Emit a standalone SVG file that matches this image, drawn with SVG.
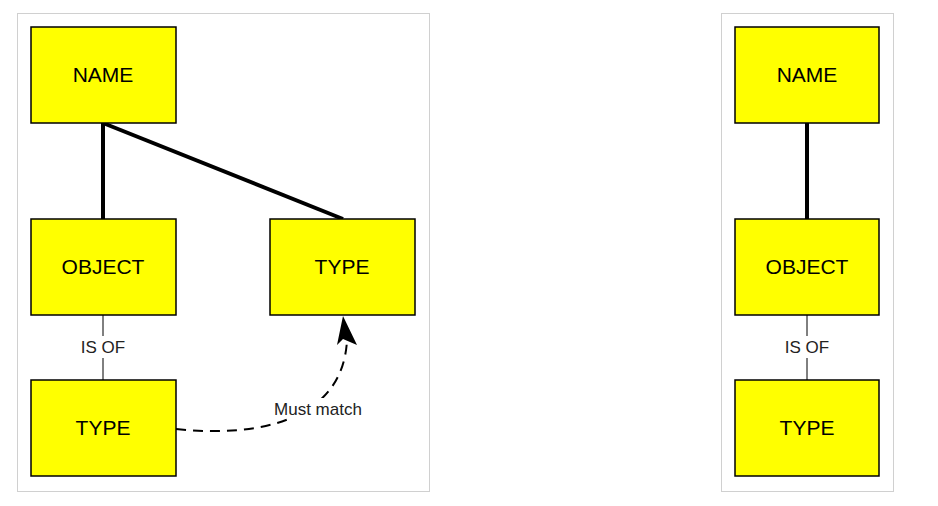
<svg xmlns="http://www.w3.org/2000/svg" width="938" height="506" viewBox="0 0 938 506">
<style>
.panel{fill:#fff;stroke:#d0d0d0;stroke-width:1}
.node rect{fill:#ffff00;stroke:#000;stroke-width:1.5}
text{font-family:"Liberation Sans",Arial,sans-serif;fill:#000}
.nl{font-size:21px;text-anchor:middle}
.el{font-size:17px;text-anchor:middle;fill:#222}
</style>
<defs><marker id="ah" markerWidth="10" markerHeight="12" refX="5" refY="1" orient="auto-start-reverse" markerUnits="userSpaceOnUse" viewBox="0 0 10 12"><path d="M5,0 L10,12 L5,10 L0,12Z" fill="#000"/></marker></defs>
<rect width="938" height="506" fill="#fff"/>
<rect class="panel" x="17.5" y="13.5" width="412" height="478"/>
<rect class="panel" x="721.5" y="13.5" width="172" height="478"/>
<g id="connectors">
<line x1="103" y1="123" x2="103" y2="219" stroke="#000" stroke-width="4"/>
<line x1="103" y1="123" x2="343" y2="219" stroke="#000" stroke-width="4"/>
<line x1="103" y1="315" x2="103" y2="380" stroke="#000" stroke-width="1"/>
<rect x="70" y="336" width="66" height="22" fill="#fff"/>
<text class="el" x="103" y="353">IS OF</text>
<path d="M176,429 C260,438 343,420 347,340" fill="none" stroke="#000" stroke-width="2" stroke-dasharray="10,7"/>
<path d="M343,316 L357,345 L343,339 L337,345Z" fill="#000"/>
<rect x="262" y="398" width="112" height="20" fill="#fff"/>
<text class="el" x="318" y="415">Must match</text>
<line x1="807" y1="123" x2="807" y2="219" stroke="#000" stroke-width="4"/>
<line x1="807" y1="315" x2="807" y2="380" stroke="#000" stroke-width="1"/>
<rect x="774" y="336" width="66" height="22" fill="#fff"/>
<text class="el" x="807" y="353">IS OF</text>
</g>
<g id="name1" class="node"><rect x="31" y="27" width="145" height="96"/><text class="nl" x="103" y="82">NAME</text></g>
<g id="object1" class="node"><rect x="31" y="219" width="145" height="96"/><text class="nl" x="103" y="274">OBJECT</text></g>
<g id="type1" class="node"><rect x="270" y="219" width="145" height="96"/><text class="nl" x="342" y="274">TYPE</text></g>
<g id="type2" class="node"><rect x="31" y="380" width="145" height="96"/><text class="nl" x="103" y="435">TYPE</text></g>
<g id="name2" class="node"><rect x="735" y="27" width="144" height="96"/><text class="nl" x="807" y="82">NAME</text></g>
<g id="object2" class="node"><rect x="735" y="219" width="144" height="96"/><text class="nl" x="807" y="274">OBJECT</text></g>
<g id="type3" class="node"><rect x="735" y="380" width="144" height="96"/><text class="nl" x="807" y="435">TYPE</text></g>
</svg>
